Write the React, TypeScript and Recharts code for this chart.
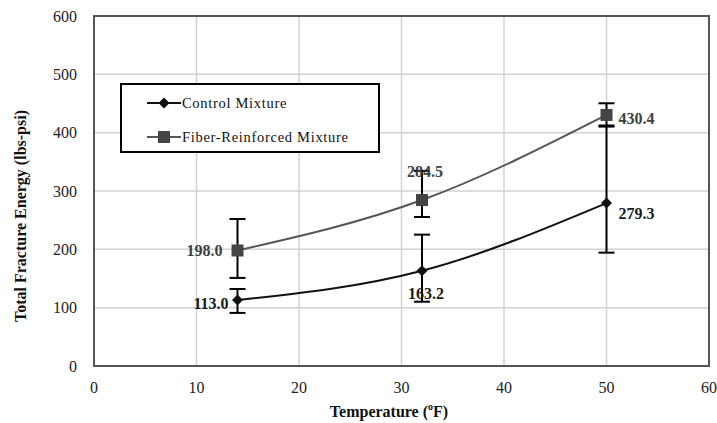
import {
  LineChart,
  Line,
  XAxis,
  YAxis,
  CartesianGrid,
  ErrorBar,
  LabelList,
  Legend,
  ReferenceArea,
} from "recharts";

const temperatures = [14, 32, 50];
const controlEnergy = [113.0, 163.2, 279.3];
const fiberEnergy = [198.0, 284.5, 430.4];
// [below, above] spread around each mean
const controlSpread = [[22, 19], [53, 62], [85, 133]];
const fiberSpread = [[47, 54], [29, 50], [20, 20]];
const xTicks = [0, 10, 20, 30, 40, 50, 60];
const yTicks = [0, 100, 200, 300, 400, 500, 600];
const seriesNames = ["Control Mixture", "Fiber-Reinforced Mixture"];

const data = temperatures.map((t, i) => ({
  temp: t,
  control: controlEnergy[i],
  fiber: fiberEnergy[i],
  controlErr: controlSpread[i],
  fiberErr: fiberSpread[i],
}));

const SERIF = "Liberation Serif, Times New Roman, Times, DejaVu Serif, serif";
const CONTROL_COLOR = "#111";
const FIBER_COLOR = "#555";

// where each value label sits relative to its point
const controlLabelPos = [
  { dx: -9, dy: 3, anchor: "end" },
  { dx: 4, dy: 23, anchor: "middle" },
  { dx: 12, dy: 10, anchor: "start" },
];
const fiberLabelPos = [
  { dx: -15, dy: 0, anchor: "end" },
  { dx: 3, dy: -29, anchor: "middle" },
  { dx: 12, dy: 4, anchor: "start" },
];

const makeLabel = (pos: any[], color: string) => (props: any) => {
  const { x, y, value, index } = props;
  const p = pos[index];
  return (
    <text
      x={x + p.dx}
      y={y + p.dy}
      textAnchor={p.anchor}
      dominantBaseline="central"
      style={{ fontFamily: SERIF, fontWeight: "bold", fontSize: 16 }}
      fill={color}
    >
      {Number(value).toFixed(1)}
    </text>
  );
};

const Diamond = (props: any) => {
  const { cx, cy } = props;
  if (cx == null || cy == null) return null;
  const r = 5.5;
  return (
    <polygon
      points={`${cx},${cy - r} ${cx + r},${cy} ${cx},${cy + r} ${cx - r},${cy}`}
      fill={CONTROL_COLOR}
    />
  );
};

const Square = (props: any) => {
  const { cx, cy } = props;
  if (cx == null || cy == null) return null;
  return <rect x={cx - 6} y={cy - 6} width={12} height={12} fill="#444" />;
};

const LegendBox = () => (
  <div
    style={{
      position: "relative",
      width: 256,
      height: 66,
      border: "2px solid #000",
      background: "#fff",
      fontFamily: SERIF,
      fontSize: 14.5,
      letterSpacing: 0.7,
      color: "#111",
    }}
  >
    {seriesNames.map((name, i) => (
      <div
        key={name}
        style={{
          position: "absolute",
          left: 25,
          top: i === 0 ? 8 : 42,
          height: 20,
          display: "flex",
          alignItems: "center",
        }}
      >
        <svg width={34} height={14}>
          <line
            x1={0}
            y1={7}
            x2={34}
            y2={7}
            stroke={i === 0 ? CONTROL_COLOR : FIBER_COLOR}
            strokeWidth={2}
          />
          {i === 0 ? <Diamond cx={17} cy={7} /> : <Square cx={17} cy={7} />}
        </svg>
        <span style={{ marginLeft: 1 }}>{name}</span>
      </div>
    ))}
  </div>
);

const tickStyle = { fontFamily: SERIF, fontSize: 16, fill: "#222" };

export default function App() {
  return (
    <div style={{ position: "absolute", left: 0, top: 0, background: "#fff", fontFamily: SERIF }}>
      <LineChart
        width={717}
        height={423}
        data={data}
        margin={{ top: 16, right: 8, left: 0, bottom: 0 }}
        style={{ fontFamily: SERIF }}
      >
        <CartesianGrid stroke="#d2d2d2" strokeWidth={1.5} />
        <XAxis
          dataKey="temp"
          type="number"
          domain={[0, 60]}
          ticks={xTicks}
          height={57}
          tickLine={false}
          tickSize={0}
          tickMargin={16}
          axisLine={{ stroke: "#555", strokeWidth: 2 }}
          tick={tickStyle}
          label={{
            content: () => (
              <text
                x={389}
                y={411}
                textAnchor="middle"
                dominantBaseline="central"
                style={{ fontFamily: SERIF, fontWeight: "bold", fontSize: 16 }}
                fill="#111"
              >
                Temperature (
                <tspan dy={-5} fontSize={10}>
                  o
                </tspan>
                <tspan dy={5}>F)</tspan>
              </text>
            ),
          }}
        />
        <YAxis
          type="number"
          domain={[0, 600]}
          ticks={yTicks}
          width={94}
          tickLine={false}
          tickSize={0}
          tickMargin={17}
          axisLine={{ stroke: "#555", strokeWidth: 2 }}
          tick={tickStyle}
          label={{
            content: () => (
              <text
                x={20}
                y={216}
                transform="rotate(-90, 20, 216)"
                textAnchor="middle"
                dominantBaseline="central"
                style={{ fontFamily: SERIF, fontWeight: "bold", fontSize: 16 }}
                fill="#111"
              >
                Total Fracture Energy (lbs-psi)
              </text>
            ),
          }}
        />
        <ReferenceArea
          x1={0}
          x2={60}
          y1={0}
          y2={600}
          fill="none"
          stroke="#555"
          strokeWidth={2}
        />
        <Legend
          layout="vertical"
          align="center"
          verticalAlign="middle"
          content={() => <LegendBox />}
          wrapperStyle={{ position: "absolute", left: 120, top: 83, width: 260, height: 70 }}
        />
        <Line
          name={seriesNames[1]}
          dataKey="fiber"
          type="monotone"
          stroke={FIBER_COLOR}
          strokeWidth={2}
          dot={<Square />}
          activeDot={false}
          isAnimationActive={false}
        >
          <ErrorBar dataKey="fiberErr" direction="y" width={8} stroke="#000" strokeWidth={2} />
          <LabelList dataKey="fiber" content={makeLabel(fiberLabelPos, "#404040")} />
        </Line>
        <Line
          name={seriesNames[0]}
          dataKey="control"
          type="monotone"
          stroke={CONTROL_COLOR}
          strokeWidth={2}
          dot={<Diamond />}
          activeDot={false}
          isAnimationActive={false}
        >
          <ErrorBar dataKey="controlErr" direction="y" width={8} stroke="#000" strokeWidth={2} />
          <LabelList dataKey="control" content={makeLabel(controlLabelPos, "#1a1a1a")} />
        </Line>
      </LineChart>
    </div>
  );
}
